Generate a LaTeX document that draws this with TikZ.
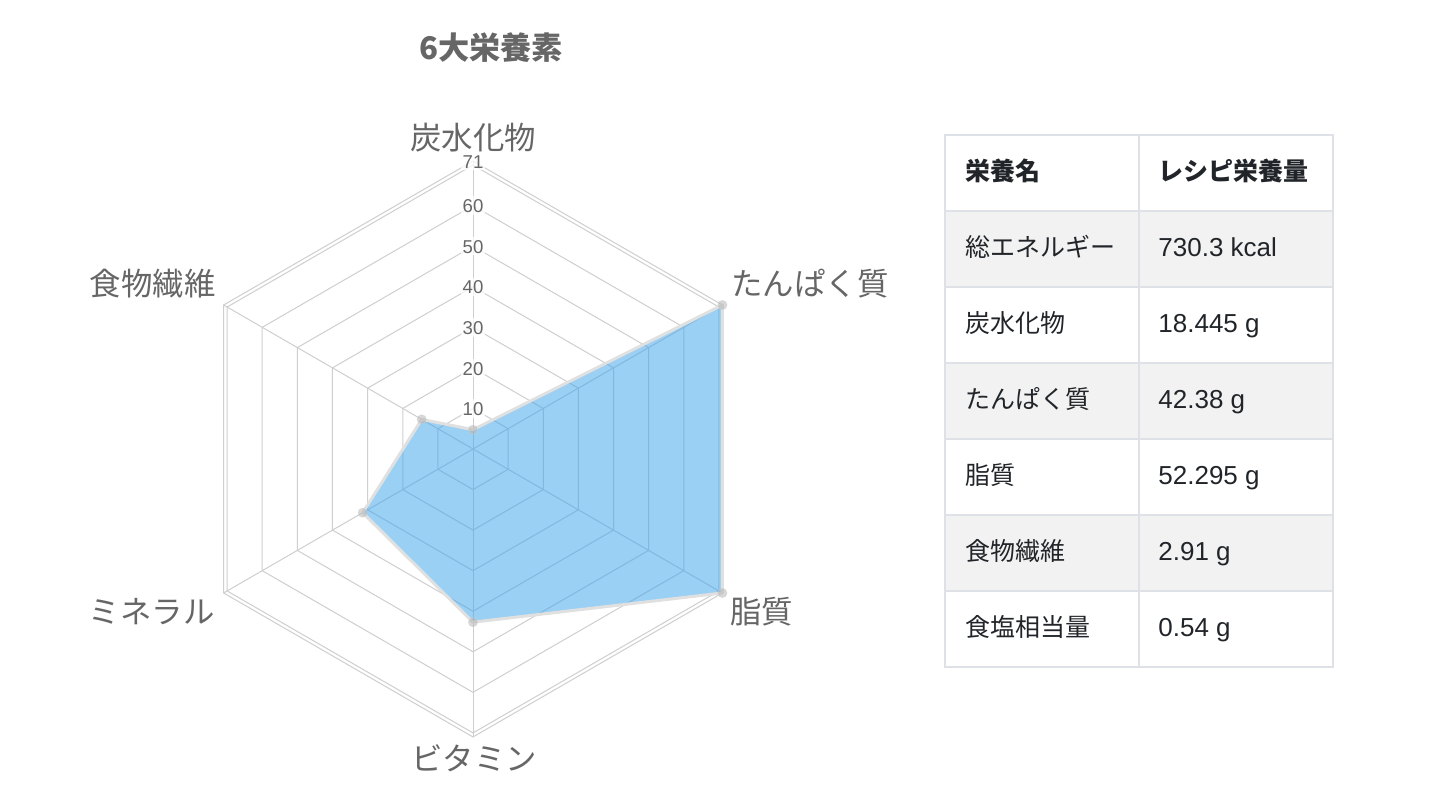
\documentclass[tikz,border=0pt]{standalone}
\usepackage{fontspec}
\setmainfont{Noto Sans CJK JP}
\newfontfamily\latn{Liberation Sans}
\usepackage{tikz}
\definecolor{labelgray}{HTML}{666666}
\definecolor{ringgray}{HTML}{CFCFCF}
\definecolor{fillblue}{RGB}{54,162,235}
\definecolor{tabletext}{HTML}{212529}
\definecolor{tableline}{HTML}{DEE2E6}
\definecolor{rowgray}{HTML}{F2F2F2}
\newcommand{\rs}{4.056}

\begin{document}
\begin{tikzpicture}[x=0.5pt, y=0.5pt,
		ringline/.style={draw=ringgray, line width=0.5pt},
		axislabel/.style={text=labelgray, font=\fontsize{15.7}{18}\selectfont, inner sep=0pt, text height=0.72em, text depth=0pt},
		ticklabel/.style={text=labelgray, font=\latn\fontsize{9.3}{10}\selectfont, fill=white, fill opacity=0.75, text opacity=1, inner sep=1pt, text height=0.72em, text depth=0pt},
		datapoint/.style={circle, fill=black!30, fill opacity=0.5, draw=black!20, draw opacity=0.6, inner sep=0pt, minimum size=4.5pt},
		cellname/.style={text=tabletext, font=\fontsize{12.5}{15}\selectfont, anchor=west, inner sep=0pt, text height=0.72em, text depth=0pt},
		cellvalue/.style={cellname, font=\latn\fontsize{13}{15}\selectfont}]
	\fill[white] (0,0) rectangle (1432,792);

	\node[text=labelgray, font=\fontsize{15.6}{18}\selectfont\bfseries, inner sep=0pt, text height=0.72em, text depth=0pt] (title) at (491,740) {6大栄養素};

	\begin{scope}[shift={(473,343)}]
		\foreach \r in {10,20,...,70,71}
			\draw[ringline] (90:\r*\rs) -- (30:\r*\rs) -- (-30:\r*\rs) -- (-90:\r*\rs) -- (-150:\r*\rs) -- (150:\r*\rs) -- cycle;
		\foreach \a in {90,30,...,-210}
			\draw[ringline] (0,0) -- (\a:71*\rs);

		\foreach \v/\a [count=\i] in {4.76/90, 71/30, 71/-30, 42.7/-90, 31.4/-150, 14.6/150}
			\coordinate (p\i) at (\a:\v*\rs);
		\fill[fillblue, fill opacity=0.5] (p1) -- (p2) -- (p3) -- (p4) -- (p5) -- (p6) -- cycle;
		\draw[black!12, line width=1.5pt, line join=round] (p1) -- (p2) -- (p3) -- (p4) -- (p5) -- (p6) -- cycle;
		\foreach \i in {1,...,6}
			\node[datapoint] (d\i) at (p\i) {};

		\foreach \r in {10,20,...,60}
			\node[ticklabel] (t\r) at (90:\r*\rs) {\r};
		\node[ticklabel] (t71) at (90:71*\rs) {71};
	\end{scope}

	\node[axislabel] (carb) at (473,650) {炭水化物};
	\node[axislabel, anchor=west] (prot) at (731,504) {たんぱく質};
	\node[axislabel, anchor=west] (fat) at (730,176) {脂質};
	\node[axislabel] (vita) at (474,29) {ビタミン};
	\node[axislabel, anchor=east] (mine) at (215,176) {ミネラル};
	\node[axislabel, anchor=east] (fibr) at (216,504) {食物繊維};

	\foreach \k in {1,3,5}
		\fill[rowgray] (945,657-76*\k) rectangle (1333,581-76*\k);
	\foreach \k in {1,...,6}
		\draw[tableline, line width=0.8pt] (945,657-76*\k) -- (1333,657-76*\k);
	\draw[tableline, line width=0.8pt] (945,125) rectangle (1333,657);
	\draw[tableline, line width=0.8pt] (1139,125) -- (1139,657);

	\node[cellname, font=\fontsize{12.5}{15}\selectfont\bfseries] (h1) at (965,619) {栄養名};
	\node[cellname, font=\fontsize{12.5}{15}\selectfont\bfseries] (h2) at (1158,619) {レシピ栄養量};
	\foreach \name/\val [count=\i] in {総エネルギー/730.3 kcal, 炭水化物/18.445 g, たんぱく質/42.38 g, 脂質/52.295 g, 食物繊維/2.91 g, 食塩相当量/0.54 g} {
		\node[cellname] (n\i) at (965,619-76*\i) {\name};
		\node[cellvalue] (v\i) at (1158,619-76*\i) {\val};
	}
\end{tikzpicture}
\end{document}
